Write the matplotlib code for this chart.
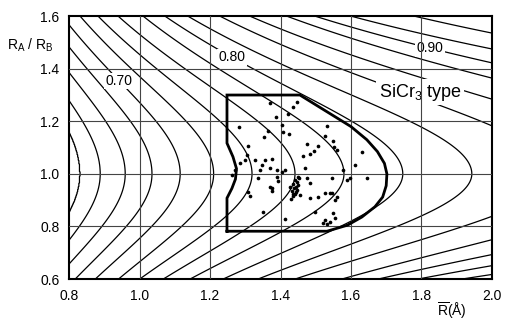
import numpy as np
import matplotlib.pyplot as plt

plt.rcParams['font.family'] = ['Liberation Sans', 'DejaVu Sans']
plt.rcParams['mathtext.default'] = 'regular'

# contour levels and where each one runs: mean radius at RA/RB = 1,
# at the bottom edge (RA/RB = 0.6) and at the top edge (RA/RB = 1.6)
levels = [0.62, 0.64, 0.66, 0.68, 0.70, 0.72, 0.74, 0.76, 0.78,
          0.80, 0.82, 0.84, 0.86, 0.88, 0.90, 0.92, 0.94, 0.96]
r_mid = [0.831, 0.888, 0.959, 1.035, 1.115, 1.210, 1.319, 1.441, 1.580,
         1.747, 1.943, 2.180, 2.460, 2.800, 3.200, 3.700, 4.200, 4.800]
r_low = [0.670, 0.710, 0.761, 0.817, 0.874, 0.940, 1.000, 1.067, 1.143,
         1.237, 1.336, 1.441, 1.574, 1.677, 1.790, 1.915, 2.030, 2.160]
r_high = [0.602, 0.639, 0.685, 0.734, 0.780, 0.831, 0.882, 0.939, 1.010,
          1.072, 1.137, 1.228, 1.313, 1.418, 1.498, 1.600, 1.780, 1.970]

# labelled contours and the ratio at which the label sits
labelled = [0.70, 0.80, 0.90]
label_ratio = [1.353, 1.444, 1.478]

# outline of the SiCr3-type field
field_r = [1.248, 1.532, 1.590, 1.631, 1.668, 1.690, 1.700, 1.702, 1.695,
           1.675, 1.645, 1.600, 1.455, 1.248, 1.248, 1.265, 1.275, 1.272,
           1.262, 1.248, 1.248]
field_ratio = [0.782, 0.782, 0.805, 0.836, 0.875, 0.912, 0.955, 1.000, 1.040,
               1.085, 1.130, 1.180, 1.300, 1.300, 1.117, 1.065, 1.020, 0.980,
               0.945, 0.908, 0.782]

# compounds
comp_r = [1.370, 1.435, 1.446, 1.422, 1.387, 1.403, 1.283, 1.364, 1.354, 1.408,
          1.425, 1.531, 1.526, 1.550, 1.474, 1.507, 1.495, 1.484, 1.465, 1.553,
          1.309, 1.304, 1.559, 1.630, 1.337, 1.309, 1.313, 1.351, 1.370, 1.377,
          1.389, 1.394, 1.403, 1.413, 1.470, 1.474, 1.484, 1.484, 1.507, 1.498,
          1.526, 1.531, 1.540, 1.550, 1.555, 1.545, 1.559, 1.545, 1.578, 1.588,
          1.597, 1.611, 1.645, 1.285, 1.299, 1.342, 1.347, 1.370, 1.389, 1.375,
          1.271, 1.328, 1.356, 1.375, 1.413, 1.450, 1.526, 1.540, 1.555, 1.521,
          1.262, 1.430, 1.436, 1.440, 1.445, 1.432, 1.448, 1.438, 1.444, 1.450,
          1.436, 1.447, 1.442, 1.452, 1.428, 1.455, 1.434]
comp_ratio = [1.270, 1.255, 1.274, 1.227, 1.215, 1.186, 1.178, 1.163, 1.141, 1.159,
              1.152, 1.182, 1.144, 1.125, 1.113, 1.107, 1.088, 1.075, 1.068, 1.103,
              1.107, 1.071, 1.090, 1.084, 0.983, 0.932, 0.916, 0.856, 0.951, 0.936,
              0.989, 0.974, 1.008, 0.827, 1.021, 0.983, 0.964, 0.907, 0.911, 0.856,
              0.824, 0.809, 0.818, 0.850, 0.831, 0.983, 0.913, 0.926, 1.014, 0.976,
              0.983, 1.033, 0.983, 1.040, 1.052, 1.014, 1.033, 1.021, 1.014, 0.945,
              1.014, 1.052, 1.052, 1.055, 1.014, 0.989, 0.926, 0.926, 0.900, 0.812,
              0.995, 0.905, 0.915, 0.925, 0.930, 0.935, 0.940, 0.945, 0.952, 0.958,
              0.960, 0.968, 0.975, 0.985, 0.950, 0.920, 0.925]

x_ticks = [0.8, 1.0, 1.2, 1.4, 1.6, 1.8, 2.0]
y_ticks = [0.6, 0.8, 1.0, 1.2, 1.4, 1.6]

K = 5.0
r_mid = np.array(r_mid)
r_low = np.array(r_low)
r_high = np.array(r_high)


def bend(ratio):
    # fraction of the way (in log R) from the ratio-1 position to the edge value
    h = lambda v: np.log(np.sqrt(1 + K * (v - 1) ** 2))
    if ratio < 1:
        return h(ratio) / h(0.6)
    return h(ratio) / h(1.6)


def level_positions(ratio):
    edge = r_low if ratio < 1 else r_high
    s = bend(ratio)
    return np.exp((1 - s) * np.log(r_mid) + s * np.log(edge))


xs = np.linspace(0.8, 2.0, 700)
ys = np.linspace(0.6, 1.6, 600)
X, Y = np.meshgrid(xs, ys)
Z = np.array([np.interp(xs, level_positions(yv), levels) for yv in ys])

fig = plt.figure(figsize=(5.05, 3.23), dpi=100)
ax = fig.add_axes([0.137, 0.136, 0.837, 0.814])

ax.contour(X, Y, Z, levels=levels, colors='black', linewidths=0.9, zorder=2)

for lvl, yy in zip(labelled, label_ratio):
    xx = np.interp(lvl, levels, level_positions(yy))
    ax.text(xx, yy, f"{lvl:.2f}", ha='center', va='center', fontsize=10,
            bbox=dict(facecolor='white', edgecolor='none', pad=1.0), zorder=3)

ax.text(1.796, 1.311, "SiCr$_3$ type", ha='center', va='center', fontsize=13,
        bbox=dict(facecolor='white', edgecolor='none', pad=2.0), zorder=3)

for xv in x_ticks[1:-1]:
    ax.axvline(xv, color='#444444', lw=0.8, zorder=3.5)
for yv in y_ticks[1:-1]:
    ax.axhline(yv, color='#444444', lw=0.8, zorder=3.5)

ax.plot(field_r, field_ratio, color='black', lw=2.0, zorder=4,
        solid_joinstyle='miter')
ax.scatter(comp_r, comp_ratio, s=7, color='black', zorder=5, linewidths=0)

ax.set_xlim(0.8, 2.0)
ax.set_ylim(0.6, 1.6)
ax.set_xticks(x_ticks)
ax.set_yticks(y_ticks)
ax.set_xticklabels([f"{v:.1f}" for v in x_ticks], fontsize=10)
ax.set_yticklabels([f"{v:.1f}" for v in y_ticks], fontsize=10)
ax.tick_params(length=0, pad=7)
for sp in ax.spines.values():
    sp.set_linewidth(1.5)

ax.text(-0.092, 0.89, "R$_A$ / R$_B$", transform=ax.transAxes,
        ha='center', va='center', fontsize=10)
ax.text(0.905, -0.12, r"$\overline{R}$(Å)", transform=ax.transAxes,
        ha='center', va='center', fontsize=10)

fig.savefig('out.png', dpi=100)
